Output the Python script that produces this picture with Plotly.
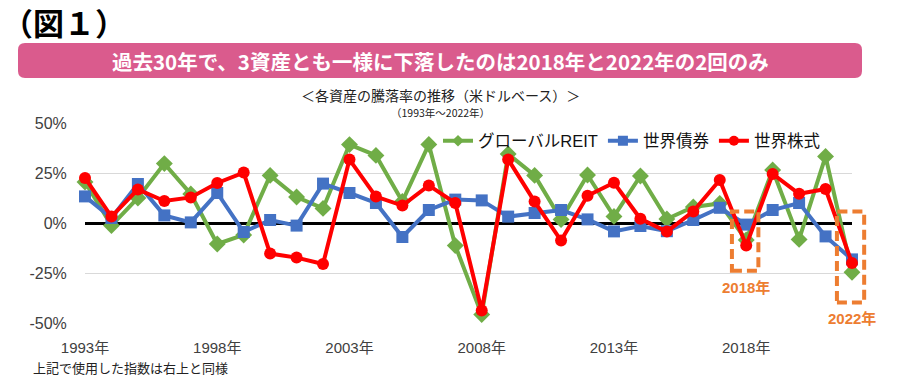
import plotly.graph_objects as go

# ---------------- data ----------------
years = list(range(1993, 2023))
reit = [20.5, -1.3, 12.5, 29.7, 14.5, -10.5, -6.0, 23.8, 13.0, 7.3,
        39.2, 33.8, 10.8, 39.3, -11.3, -45.8, 34.5, 23.8, 1.7, 24.0,
        3.3, 23.5, 2.0, 8.0, 9.8, -8.5, 26.5, -8.2, 33.3, -24.6]
bonds = [13.3, 2.5, 19.5, 3.8, 0.3, 15.0, -4.5, 1.5, -1.3, 19.7,
         15.0, 10.0, -7.0, 6.5, 11.7, 11.3, 3.2, 5.0, 6.5, 1.8,
         -4.2, -1.5, -4.1, 1.5, 7.6, -0.8, 6.5, 10.0, -6.7, -18.2]
stocks = [22.5, 3.2, 16.8, 11.0, 12.8, 20.0, 25.2, -15.3, -17.3, -20.5,
          31.7, 13.2, 8.7, 18.8, 10.0, -43.8, 31.8, 10.7, -8.8, 13.6,
          20.1, 2.1, -4.3, 5.8, 21.5, -11.3, 24.5, 14.6, 17.0, -20.0]
series_names = ["グローバルREIT", "世界債券", "世界株式"]
x_tick_years = [1993, 1998, 2003, 2008, 2013, 2018]
x_tick_labels = [f"{y}年" for y in x_tick_years]
y_tick_vals = [50, 25, 0, -25, -50]
y_tick_labels = [f"{v}%" for v in y_tick_vals]
highlight_years = [2018, 2022]
highlight_labels = ["2018年", "2022年"]

fig_title = "（図１）"
banner_text = "過去30年で、3資産とも一様に下落したのは2018年と2022年の2回のみ"
subtitle1 = "＜各資産の騰落率の推移（米ドルベース）＞"
subtitle2 = "（1993年～2022年）"
note_text = "上記で使用した指数は右上と同様"

# ---------------- layout geometry ----------------
WIDTH, HEIGHT = 900, 380
L, R, T, B = 85, 48, 123, 57
PW, PH = WIDTH - L - R, HEIGHT - T - B
YMIN, YMAX = -50, 50
XMIN, XMAX = years[0], years[-1]

def px_x(px):
    return (px - L) / PW

def px_y(py):
    return (HEIGHT - B - py) / PH

def dx(year):
    return (year - XMIN) / (XMAX - XMIN)

def dy(val):
    return (val - YMIN) / (YMAX - YMIN)

GREEN, BLUE, RED, ORANGE = "#70AD47", "#4472C4", "#FF0000", "#ED7D31"
FONT = "Liberation Sans, Arial, Noto Sans CJK JP, sans-serif"
JFONT = "Noto Sans CJK JP, sans-serif"

fig = go.Figure()
styles = [
    (reit, GREEN, "diamond", 13),
    (bonds, BLUE, "square", 12),
    (stocks, RED, "circle", 12),
]
for name, (vals, col, sym, sz) in zip(series_names, styles):
    fig.add_trace(go.Scatter(
        x=years, y=vals, mode="lines+markers", name=name,
        line=dict(color=col, width=4),
        marker=dict(symbol=sym, size=sz, color=col),
        showlegend=False, cliponaxis=False,
        hovertemplate="%{x}年: %{y:.1f}%<extra>" + name + "</extra>",
    ))
# legend-only entries with smaller markers
legend_sizes = [9, 10, 10]
for name, (vals, col, sym, sz), lsz in zip(series_names, styles, legend_sizes):
    fig.add_trace(go.Scatter(
        x=[None], y=[None], mode="lines+markers", name=name,
        line=dict(color=col, width=4),
        marker=dict(symbol=sym, size=lsz, color=col),
    ))

shapes = []
# banner with rounded corners
bx0, bx1, by0, by1 = px_x(18), px_x(862), px_y(78), px_y(43)
rx, ry = 7 / PW, 7 / PH
banner_path = (
    f"M {bx0+rx},{by0} L {bx1-rx},{by0} Q {bx1},{by0} {bx1},{by0+ry} "
    f"L {bx1},{by1-ry} Q {bx1},{by1} {bx1-rx},{by1} "
    f"L {bx0+rx},{by1} Q {bx0},{by1} {bx0},{by1-ry} "
    f"L {bx0},{by0+ry} Q {bx0},{by0} {bx0+rx},{by0} Z"
)
shapes.append(dict(type="path", xref="paper", yref="paper", path=banner_path,
                   fillcolor="#DA5B8D", line=dict(width=0), layer="below"))

# dashed highlight boxes (extents in data units around highlighted years)
box_extent = {2018: (-0.54, 0.46, -23.9, 5.8), 2022: (-0.57, 0.46, -39.7, 5.8)}
for yr in highlight_years:
    a, b, lo, hi = box_extent[yr]
    shapes.append(dict(type="rect", xref="paper", yref="paper",
                       x0=dx(yr + a), x1=dx(yr + b), y0=dy(lo), y1=dy(hi),
                       line=dict(color=ORANGE, width=4, dash="10px,5px"),
                       fillcolor="rgba(0,0,0,0)", layer="above"))

annotations = [
    dict(text=f"<b>{fig_title}</b>", xref="paper", yref="paper",
         x=px_x(0), y=px_y(21), xanchor="left", yanchor="middle",
         showarrow=False, font=dict(size=31, color="#000", family=JFONT)),
    dict(text=f"<b>{banner_text}</b>", xref="paper", yref="paper",
         x=px_x(440), y=px_y(61), xanchor="center", yanchor="middle",
         showarrow=False, font=dict(size=20.5, color="#FFFFFF", family=JFONT)),
    dict(text=subtitle1, xref="paper", yref="paper",
         x=px_x(440), y=px_y(95), xanchor="center", yanchor="middle",
         showarrow=False, font=dict(size=14, color="#222", family=JFONT)),
    dict(text=subtitle2, xref="paper", yref="paper",
         x=px_x(440), y=px_y(112), xanchor="center", yanchor="middle",
         showarrow=False, font=dict(size=10.5, color="#222", family=JFONT)),
    dict(text=note_text, xref="paper", yref="paper",
         x=px_x(31), y=px_y(367), xanchor="left", yanchor="middle",
         showarrow=False, font=dict(size=13, color="#222", family=JFONT)),
]
label_offsets = {2018: -32.0, 2022: -47.5}
for yr, lab in zip(highlight_years, highlight_labels):
    annotations.append(dict(text=f"<b>{lab}</b>", x=yr, y=label_offsets[yr],
                            xref="x", yref="y", showarrow=False,
                            xanchor="center", yanchor="middle",
                            font=dict(size=15, color=ORANGE, family=FONT)))

fig.update_layout(
    width=WIDTH, height=HEIGHT,
    margin=dict(l=L, r=R, t=T, b=B, autoexpand=False),
    paper_bgcolor="white", plot_bgcolor="white",
    font=dict(family=FONT, size=15, color="#404040"),
    showlegend=True,
    legend=dict(orientation="h", x=px_x(438), y=px_y(141),
                xanchor="left", yanchor="middle",
                bgcolor="rgba(0,0,0,0)", font=dict(size=16.5, color="#111", family=FONT),
                itemwidth=30, tracegroupgap=0),
    shapes=shapes, annotations=annotations,
    xaxis=dict(range=[XMIN, XMAX], tickvals=x_tick_years, ticktext=x_tick_labels,
               showgrid=False, zeroline=False, showline=False,
               ticks="outside", ticklen=11, tickcolor="rgba(0,0,0,0)",
               tickfont=dict(size=15, color="#404040", family=FONT)),
    yaxis=dict(range=[YMIN, YMAX], tickvals=y_tick_vals, ticktext=y_tick_labels,
               showgrid=True, gridcolor="#D9D9D9", gridwidth=1,
               zeroline=True, zerolinecolor="#000000", zerolinewidth=3,
               showline=False, ticks="outside", ticklen=14,
               tickcolor="rgba(0,0,0,0)",
               tickfont=dict(size=16, color="#404040", family=FONT)),
)

fig.write_html("out.html", config={"displayModeBar": False},
               post_script="document.body.style.margin='0px';")
